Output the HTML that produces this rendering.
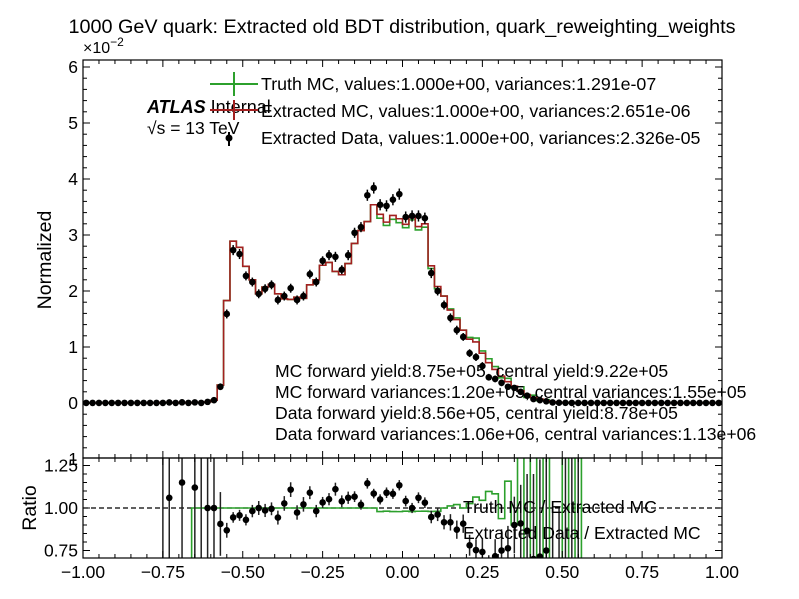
<!DOCTYPE html>
<html><head><meta charset="utf-8"><style>
html,body{margin:0;padding:0;background:#fff;width:799px;height:599px;overflow:hidden;}
svg{display:block;font-family:"Liberation Sans",sans-serif;}
</style></head><body>
<svg id="chart" width="799" height="599" viewBox="0 0 799 599" xmlns="http://www.w3.org/2000/svg">
<text x="402" y="33" font-size="19.8" text-anchor="middle">1000 GeV quark: Extracted old BDT distribution, quark_reweighting_weights</text>
<text x="83" y="53" font-size="16">×10<tspan dy="-7" font-size="12">−2</tspan></text>
<text transform="translate(51,260) rotate(-90)" font-size="19.5" text-anchor="middle">Normalized</text>
<text transform="translate(36,508) rotate(-90)" font-size="19.5" text-anchor="middle">Ratio</text>
<g id="main"></g>
<g id="ratio"></g>
<g id="ticks"></g>
<text x="147" y="113" font-size="18" font-weight="bold" font-style="italic">ATLAS <tspan font-weight="normal" font-style="normal">Internal</tspan></text>
<text x="147" y="134" font-size="17.5">√s = 13 TeV</text>
<g font-size="17.8">
<line x1="210" y1="84" x2="258" y2="84" stroke="#2ca02c" stroke-width="2"/><line x1="234" y1="72" x2="234" y2="96" stroke="#2ca02c" stroke-width="2"/>
<text x="261" y="90">Truth MC, values:1.000e+00, variances:1.291e-07</text>
<line x1="210" y1="110" x2="258" y2="110" stroke="#a32020" stroke-width="2"/><line x1="234" y1="100" x2="234" y2="120" stroke="#a32020" stroke-width="2"/>
<text x="261" y="117">Extracted MC, values:1.000e+00, variances:2.651e-06</text>
<line x1="229" y1="132" x2="229" y2="146" stroke="#000" stroke-width="2"/><circle cx="229" cy="138" r="3.5"/>
<text x="261" y="144">Extracted Data, values:1.000e+00, variances:2.326e-05</text>
</g>
<g font-size="17.6">
<text x="275" y="377">MC forward yield:8.75e+05, central yield:9.22e+05</text>
<text x="275" y="398">MC forward variances:1.20e+05, central variances:1.55e+05</text>
<text x="275" y="419">Data forward yield:8.56e+05, central yield:8.78e+05</text>
<text x="275" y="440">Data forward variances:1.06e+06, central variances:1.13e+06</text>
</g>
<g font-size="17.6">
<text x="463" y="513">Truth MC / Extracted MC</text>
<text x="463" y="539">Extracted Data / Extracted MC</text>
</g>
</svg>
<script>
const binLo = -1, binW = 0.02;
const mcValues = [0,0,0,0,0,0,0,0,0,0, 0,0,0.01,0.01,0,0.01,0,0.01,0.01,0.02,
0.05,0.32,1.83,2.89,2.78,2.44,2.2,1.95,2.07,2.12, 1.95,1.86,1.85,1.89,1.87,2.11,2.2,2.46,2.51,2.35,
2.29,2.49,2.85,3.08,3.24,3.54,3.37,3.23,3.35,3.29, 3.19,3.34,3.15,3.2,2.45,2.08,1.91,1.66,1.49,1.3,
1.14,1.09,0.89,0.72,0.6,0.48,0.38,0.3,0.22,0.15, 0.1,0.07,0.04,0.02,0.01,0.006,0.004,0.002,0,0,
0,0,0,0,0,0,0,0,0,0, 0,0,0,0,0,0,0,0,0,0];
const truthValues = [0,0,0,0,0,0,0,0,0,0, 0,0,0,0,0,0,0,0.01,0.01,0.02,
0.05,0.32,1.83,2.89,2.78,2.44,2.2,1.95,2.07,2.12, 1.95,1.86,1.85,1.89,1.87,2.11,2.2,2.46,2.51,2.35,
2.29,2.49,2.85,3.08,3.24,3.54,3.30,3.17,3.28,3.22, 3.13,3.27,3.09,3.14,2.40,2.04,1.91,1.68,1.52,1.3,
1.17,1.16,0.93,0.79,0.65,0.45,0.44,0.27,0.29,0.1, 0.14,0.04,0.06,0.01,0.003,0.012,0,0.005,0,0,
0,0,0,0,0,0,0,0,0,0, 0,0,0,0,0,0,0,0,0,0];
const dataValues = [0.002,0.002,0.002,0.002,0.002,0.002,0.002,0.002,0.002,0.002, 0.002,0.002,0.002,0.0106,0.002,0.0115,0.002,0.0112,0.002,0.02,
0.05,0.29,1.59,2.73,2.66,2.27,2.16,1.95,2.04,2.11, 1.84,1.91,2.05,1.84,1.91,2.3,2.16,2.54,2.64,2.61,
2.38,2.64,3.04,3.14,3.71,3.84,3.54,3.52,3.63,3.73, 3.32,3.34,3.34,3.3,2.32,2.0,1.75,1.52,1.3,1.18,
0.89,0.82,0.66,0.46,0.43,0.36,0.29,0.27,0.2,0.13, 0.07,0.05,0.03,0.01,0.005,0.003,0.002,0.001,0.002,0.002,
0.002,0.002,0.002,0.002,0.002,0.002,0.002,0.002,0.002,0.002, 0.002,0.002,0.002,0.002,0.002,0.002,0.002,0.002,0.002,0.002];
const dataErrors = [0.01,0.01,0.01,0.01,0.01,0.01,0.01,0.01,0.01,0.01, 0.01,0.01,0.05,0.05,0.01,0.05,0.01,0.05,0.05,0.05,
0.05,0.06,0.08,0.09,0.09,0.08,0.08,0.08,0.08,0.08, 0.08,0.08,0.08,0.08,0.08,0.08,0.08,0.08,0.09,0.09,
0.08,0.09,0.09,0.09,0.1,0.1,0.1,0.1,0.1,0.1, 0.1,0.1,0.1,0.1,0.09,0.08,0.08,0.08,0.08,0.07,
0.07,0.07,0.07,0.06,0.06,0.06,0.05,0.05,0.05,0.05, 0.05,0.04,0.03,0.01,0.005,0.005,0.005,0.005,0.01,0.01,
0.01,0.01,0.01,0.01,0.01,0.01,0.01,0.01,0.01,0.01, 0.01,0.01,0.01,0.01,0.01,0.01,0.01,0.01,0.01,0.01];
const xTickLabels = ["−1.00","−0.75","−0.50","−0.25","0.00","0.25","0.50","0.75","1.00"];
const yTickLabels = ["1","0","1","2","3","4","5","6"];
const ratioTickLabels = ["0.75","1.00","1.25"];

const NS="http://www.w3.org/2000/svg";
const L=83,R=722,T=60,B=458,RT=458,RB=558;
const sx=v=>L+(v+1)/2*(R-L);
const sy=v=>403-v*56;
const ry=v=>508-(v-1)*170;
const clampY=(y,lo,hi)=>Math.max(lo,Math.min(hi,y));
function mk(tag,attrs,parent){const e=document.createElementNS(NS,tag);for(const k in attrs)e.setAttribute(k,attrs[k]);parent.appendChild(e);return e;}
const main=document.getElementById('main'), ratio=document.getElementById('ratio'), ticks=document.getElementById('ticks');

function stepPath(vals,fy,lo,hi){let d='';for(let i=0;i<vals.length;i++){const x0=sx(binLo+i*binW),x1=sx(binLo+(i+1)*binW),y=clampY(fy(vals[i]),lo,hi);d+=(i?'L':'M')+x0+','+y+'L'+x1+','+y;}return d;}
const clipTop=mk('clipPath',{id:'ct'},main);mk('rect',{x:L,y:T,width:R-L,height:B-T},clipTop);
const clipR=mk('clipPath',{id:'cr'},ratio);mk('rect',{x:L,y:RT,width:R-L,height:RB-RT},clipR);
const gm=mk('g',{'clip-path':'url(#ct)'},main);
const tp=mk('path',{d:stepPath(truthValues,sy,T,B),fill:'none',stroke:'#2ca02c','stroke-width':1.6},gm);


const mp=mk('path',{d:stepPath(mcValues,sy,T,B),fill:'none',stroke:'#a32020','stroke-width':1.6},gm);


for(let i=0;i<dataValues.length;i++){
  const cx=sx(binLo+(i+0.5)*binW),v=dataValues[i],e=dataErrors[i];
  mk('line',{x1:cx,x2:cx,y1:sy(v-e),y2:sy(v+e),stroke:'#000','stroke-width':1.5},gm);
  const c=mk('circle',{cx:cx,cy:sy(v),r:3.3,fill:'#000'},gm);
  
  
}
const gr=mk('g',{'clip-path':'url(#cr)'},ratio);
mk('line',{x1:L,x2:R,y1:ry(1),y2:ry(1),stroke:'#000','stroke-width':1.2,'stroke-dasharray':'5,3'},gr);
const tr=truthValues.map((t,i)=>mcValues[i]>0?t/mcValues[i]:0);
const rp=mk('path',{d:stepPath(tr,ry,RT-2,RB+2),fill:'none',stroke:'#2ca02c','stroke-width':1.6},gr);


for(let i=0;i<dataValues.length;i++){
  if(mcValues[i]<=0)continue;
  const cx=sx(binLo+(i+0.5)*binW),r=dataValues[i]/mcValues[i],e=dataErrors[i]/mcValues[i];
  mk('line',{x1:cx,x2:cx,y1:clampY(ry(r-e),RT-2,RB+2),y2:clampY(ry(r+e),RT-2,RB+2),stroke:'#222','stroke-width':1.5},gr);
  const c=mk('circle',{cx:cx,cy:clampY(ry(r),RT-10,RB+10),r:3.3,fill:'#000'},gr);
  
  
}
mk('rect',{x:L,y:T,width:R-L,height:B-T,fill:'none',stroke:'#000','stroke-width':1.2},ticks);
mk('rect',{x:L,y:RT,width:R-L,height:RB-RT,fill:'none',stroke:'#000','stroke-width':1.2},ticks);
for(let k=0;k<=40;k++){
  const v=-1+k*0.05,x=sx(v),major=k%5===0,len=major?7:4;
  [[T,1],[B,-1],[RT,1],[RB,-1]].forEach(([y,d])=>mk('line',{x1:x,x2:x,y1:y,y2:y+d*len,stroke:'#000','stroke-width':1},ticks));
}
xTickLabels.forEach((s,i)=>{const t=mk('text',{x:sx(-1+i*0.25),y:578,'font-size':17.5,'text-anchor':'middle'},ticks);t.textContent=s;

});
for(let k=-5;k<=30;k++){
  const v=k*0.2,y=sy(v);if(y<T||y>B)continue;const major=k%5===0,len=major?7:4;
  mk('line',{x1:L,x2:L+len,y1:y,y2:y,stroke:'#000'},ticks);mk('line',{x1:R,x2:R-len,y1:y,y2:y,stroke:'#000'},ticks);
}
yTickLabels.forEach((s,i)=>{const t=mk('text',{x:78,y:sy(i-1)+6,'font-size':17.5,'text-anchor':'end'},ticks);t.textContent=s;

});
for(let k=0;k<=12;k++){
  const v=0.7+k*0.05,y=ry(v);if(y<RT||y>RB)continue;const major=(k%5===1),len=major?7:4;
  mk('line',{x1:L,x2:L+len,y1:y,y2:y,stroke:'#000'},ticks);mk('line',{x1:R,x2:R-len,y1:y,y2:y,stroke:'#000'},ticks);
}
ratioTickLabels.forEach((s,i)=>{const t=mk('text',{x:78,y:ry(0.75+i*0.25)+6,'font-size':17.5,'text-anchor':'end'},ticks);t.textContent=s;

});
</script>
</body></html>
